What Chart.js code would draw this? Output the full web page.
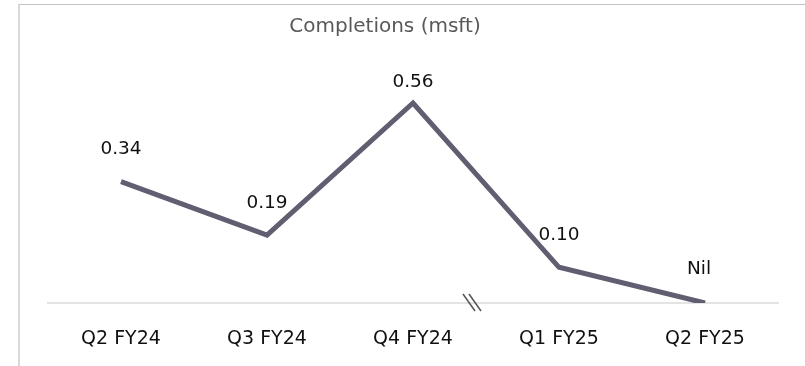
<!DOCTYPE html>
<html>
<head>
<meta charset="utf-8">
<script src="https://cdn.jsdelivr.net/npm/chart.js@4"></script>
<style>
  html, body { margin: 0; padding: 0; background: #fff; }
  #wrap { position: relative; width: 805px; height: 366px; overflow: hidden; }
  #frame { position: absolute; left: 18px; top: 4px; right: -5px; bottom: -5px;
           border-left: 2px solid #d9d9d9; border-top: 1px solid #c4c4c4; pointer-events: none; }
  canvas { position: absolute; left: 0; top: 0; }
</style>
</head>
<body>
<div id="wrap">
  <canvas id="c" width="805" height="366"></canvas>
  <div id="frame"></div>
</div>
<script>
const title = "Completions (msft)";
const categories = ["Q2 FY24", "Q3 FY24", "Q4 FY24", "Q1 FY25", "Q2 FY25"];
const completions = [0.34, 0.19, 0.56, 0.10, 0];

const FONT = "'DejaVu Sans', sans-serif";
const labelStyle = { dy: [32, 32, 21, 32, 34], dx: [0, 0, 0, 0, -6] };

const overlay = {
  id: 'overlay',
  afterDatasetsDraw(chart) {
    const ctx = chart.ctx;
    const meta = chart.getDatasetMeta(0);
    ctx.save();
    // title
    ctx.fillStyle = '#595959';
    ctx.font = "20px " + FONT;
    ctx.textAlign = 'center';
    ctx.textBaseline = 'middle';
    ctx.fillText(title, 385, 27);
    // data labels
    ctx.fillStyle = '#111111';
    ctx.font = "18.5px " + FONT;
    meta.data.forEach((pt, i) => {
      const v = completions[i];
      const txt = v === 0 ? 'Nil' : v.toFixed(2);
      ctx.fillText(txt, pt.x + labelStyle.dx[i], pt.y - labelStyle.dy[i]);
    });
    // axis break mark between Q4 FY24 and Q1 FY25
    const xs = chart.scales.x;
    const bx = (xs.getPixelForValue(2) + xs.getPixelForValue(3)) / 2 - 14;
    const by = chart.chartArea.bottom;
    ctx.strokeStyle = '#555555';
    ctx.lineWidth = 1.5;
    [-3, 3].forEach(o => {
      ctx.beginPath();
      ctx.moveTo(bx + o - 6, by - 9);
      ctx.lineTo(bx + o + 6, by + 8);
      ctx.stroke();
    });
    ctx.restore();
  }
};

new Chart(document.getElementById('c'), {
  type: 'line',
  data: {
    labels: categories,
    datasets: [{
      data: completions,
      borderColor: '#605e70',
      borderWidth: 5,
      pointRadius: 0,
      pointHoverRadius: 0,
      tension: 0,
      fill: false,
      borderCapStyle: 'butt',
      borderJoinStyle: 'miter'
    }]
  },
  options: {
    responsive: false,
    animation: false,
    devicePixelRatio: 1,
    layout: { padding: { left: 48, right: 27, top: 53, bottom: 17 } },
    plugins: { legend: { display: false }, tooltip: { enabled: false }, title: { display: false } },
    scales: {
      x: {
        offset: true,
        grid: { display: false, drawTicks: false },
        border: { display: true, color: '#e4e4e4', width: 2 },
        ticks: { color: '#111111', font: { family: FONT, size: 19 }, padding: 25, maxRotation: 0 },
        afterFit(s) { s.height = 46; }
      },
      y: {
        display: false,
        min: 0,
        max: 0.7
      }
    }
  },
  plugins: [overlay]
});
</script>
</body>
</html>
